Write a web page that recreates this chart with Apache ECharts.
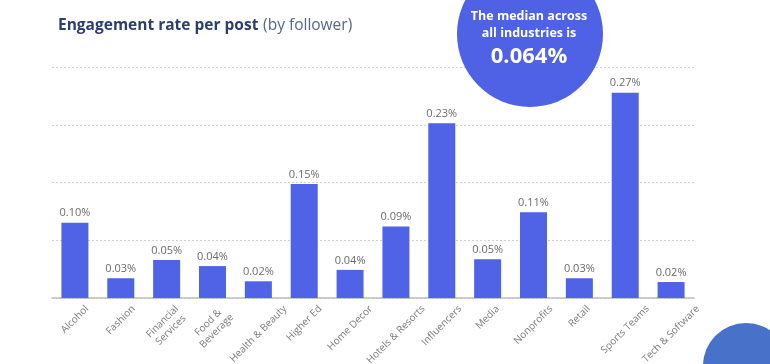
<!DOCTYPE html>
<html>
<head>
<meta charset="utf-8">
<script src="https://cdn.jsdelivr.net/npm/echarts@6/dist/echarts.min.js"></script>
<style>
html,body{margin:0;padding:0;background:#fff;}
#chart{width:770px;height:364px;}
</style>
</head>
<body>
<div id="chart"></div>
<script>
const categories = ['Alcohol','Fashion','Financial\nServices','Food &\nBeverage','Health & Beauty','Higher Ed','Home Decor','Hotels & Resorts','Influencers','Media','Nonprofits','Retail','Sports Teams','Tech & Software'];
const engagementRate = [0.099, 0.026, 0.050, 0.042, 0.022, 0.150, 0.037, 0.094, 0.230, 0.051, 0.113, 0.026, 0.270, 0.021];
const yTicks = [0, 0.076, 0.152, 0.228, 0.304];
const titleBold = 'Engagement rate per post';
const titleLight = '(by follower)';
const medianLines = ['The median across', 'all industries is'];
const medianValue = '0.064%';

const FONT = '"Open Sans", "DejaVu Sans", sans-serif';
const LABEL_FONT = '10px ' + FONT;
const LABEL_LH = 12;
const measureCtx = document.createElement('canvas').getContext('2d');
measureCtx.font = LABEL_FONT;
function blockWidth(t) {
  return Math.max.apply(null, t.split('\n').map(s => measureCtx.measureText(s).width));
}

const chart = echarts.init(document.getElementById('chart'));
chart.setOption({
  animation: false,
  backgroundColor: '#ffffff',
  textStyle: { fontFamily: FONT },
  title: {
    left: 53, top: 12,
    text: '{b|' + titleBold + '} {l|' + titleLight + '}',
    textStyle: {
      rich: {
        b: { fontFamily: FONT, fontSize: 15.5, fontWeight: 'bold', color: '#2b3e6d' },
        l: { fontFamily: FONT, fontSize: 15.5, fontWeight: 'normal', color: '#56668a' }
      }
    }
  },
  grid: { left: 52, right: 76, top: 67, bottom: 66, outerBoundsMode: 'none', containLabel: false },
  xAxis: {
    type: 'category',
    data: categories,
    axisLine: { lineStyle: { color: '#bdbdbd', width: 1.5 } },
    axisTick: { show: false },
    axisLabel: { show: false }
  },
  yAxis: {
    type: 'value',
    min: yTicks[0], max: yTicks[yTicks.length - 1], interval: yTicks[1] - yTicks[0],
    axisLabel: { show: false },
    axisLine: { show: false },
    axisTick: { show: false },
    splitLine: { lineStyle: { color: '#d0d0d0', type: [2, 2], width: 1 } }
  },
  series: [{
    type: 'bar',
    data: engagementRate,
    barWidth: 27,
    itemStyle: { color: '#5062e6' },
    label: {
      show: true, position: 'top', distance: 4,
      color: '#6b6b6b', fontSize: 11, fontFamily: FONT,
      formatter: p => p.value.toFixed(2) + '%'
    }
  }, {
    type: 'custom',
    clip: false,
    silent: true,
    data: categories.map((c, i) => [i, 0]),
    renderItem: (params, api) => {
      const idx = api.value(0);
      const pt = api.coord([idx, 0]);
      const text = categories[idx];
      const w = blockWidth(text);
      const h = text.split('\n').length * LABEL_LH;
      const half = (w + h) * Math.SQRT1_2 / 2;
      return {
        type: 'text',
        x: pt[0],
        y: pt[1] + 5 + half,
        rotation: Math.PI / 4,
        style: {
          text: text, font: LABEL_FONT, fill: '#7a7a7a', lineHeight: LABEL_LH,
          textAlign: 'center', textVerticalAlign: 'middle', align: 'center', verticalAlign: 'middle'
        }
      };
    }
  }],
  graphic: [
    { type: 'circle', shape: { cx: 530, cy: 34, r: 73 }, style: { fill: '#4f61e4' }, z: 10 },
    { type: 'text', x: 529, y: 16, z: 11, style: { text: medianLines[0], fill: '#ffffff', font: 'bold 12.5px ' + FONT, textAlign: 'center', textVerticalAlign: 'middle' } },
    { type: 'text', x: 529, y: 33, z: 11, style: { text: medianLines[1], fill: '#ffffff', font: 'bold 12.5px ' + FONT, textAlign: 'center', textVerticalAlign: 'middle' } },
    { type: 'text', x: 529, y: 57, z: 11, style: { text: medianValue, fill: '#ffffff', font: 'bold 22px ' + FONT, textAlign: 'center', textVerticalAlign: 'middle' } },
    { type: 'circle', shape: { cx: 746, cy: 366, r: 43 }, style: { fill: '#4871c9' }, z: 10 }
  ]
});
</script>
</body>
</html>
